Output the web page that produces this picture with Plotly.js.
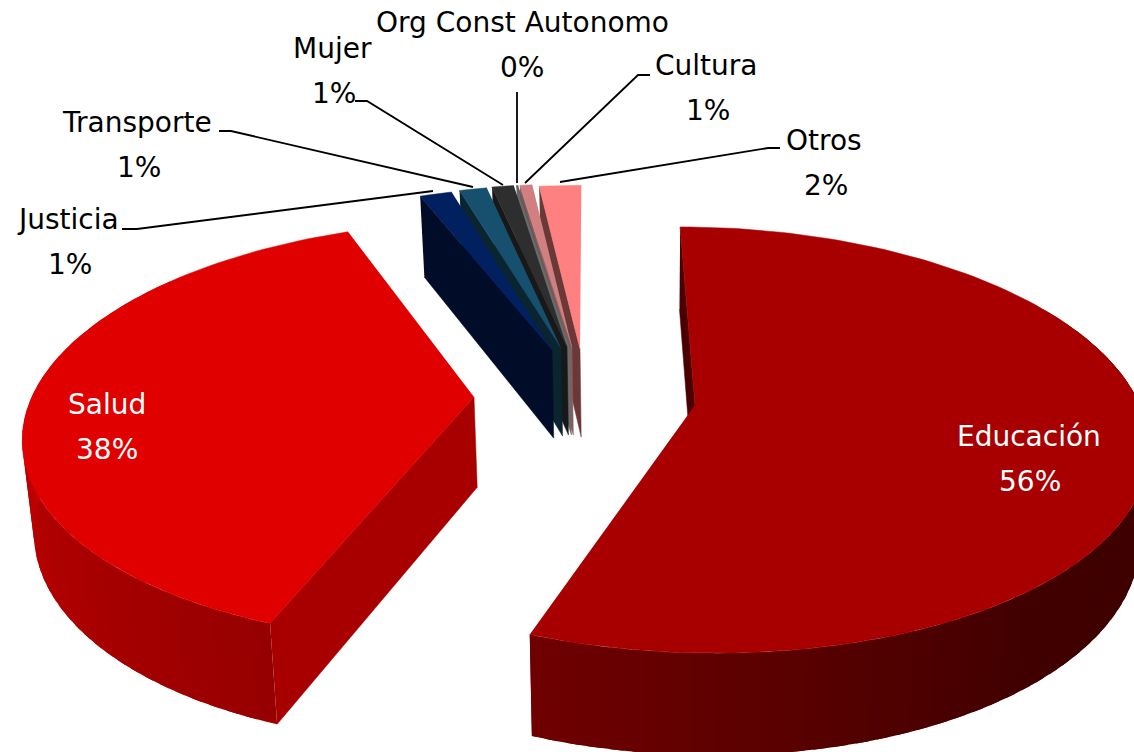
<!DOCTYPE html>
<html>
<head>
<meta charset="utf-8">
<script src="https://cdn.plot.ly/plotly-3.0.1.min.js"></script>
<style>html,body{margin:0;padding:0;background:#fff;overflow:hidden}</style>
</head>
<body>
<div id="chart" style="width:1134px;height:752px"></div>
<script>
// ---- data ----
const categories = ['Educación','Salud','Justicia','Transporte','Mujer','Org Const Autonomo','Cultura','Otros'];
const values = [55.7, 38.3, 1.4, 1.2, 0.95, 0.08, 0.54, 1.83];
const topColors = ['#a80000','#e00000','#002060','#17506e','#2e2e2e','#5c5c5c','#d08080','#ff8080'];
const sideColors = ['#4a0000','#a80000','#000c28','#0a2430','#181818','#6a6a6a','#8a5a5a','#6b3838'];
const labelColors = ['#ffffff','#ffffff','#000000','#000000','#000000','#000000','#000000','#000000'];

// ---- view settings: where each exploded wedge's tip sits, label spots, leaders ----
const tips = [[695,405],[474,397],[552,350],[561,348],[567,347],[570,347],[572,347],[580,349]];
const labelSpots = [[1029,436],[107,404],[68,219],[137,122],[332,48],[522,22],[706,65],[824,140]];
const percentSpots = [[1030,481],[107,449],[70,264],[139,167],[334,93],[522,67],[708,110],[826,185]];
const leaders = [null,null,
  [[122,229],[137,229],[433,191]],
  [[219,131],[231,131],[473,187]],
  [[355,101],[367,101],[503,185]],
  [[517,92],[517,183]],
  [[650,75],[638,75],[525,183]],
  [[780,148],[768,148],[560,182]]];
const upper = {xv:590, yv:-856, P:2706, Q:7669};
const lower = {xv:591, yv:-824, P:2655, Q:8026};
const wallStopsEdu = [[100,[62,0,0]],[140,[64,0,0]],[170,[88,0,0]],[201,[112,0,0]]];
const wallStopsSalud = [[200,[150,0,0]],[235,[172,0,0]],[275,[195,0,0]],[300,[195,0,0]]];

const total = values.reduce((a,b)=>a+b,0);
const worldOf = t => { const D = upper.Q/(t[1]-upper.yv); return {X:(t[0]-upper.xv)*D/upper.P, D}; };
const proj = (pl,X,D) => [pl.xv + pl.P*X/D, pl.yv + pl.Q/D];
const rimWorld = (w,deg) => { const r = deg*Math.PI/180; return {X:w.X+Math.sin(r), D:w.D+Math.cos(r)}; };
const rim = (pl,w,deg) => { const p = rimWorld(w,deg); return proj(pl,p.X,p.D); };
const traces = [];
function poly(pts,color,noLine){
  traces.push({type:'scatter',mode:noLine?'none':'lines',x:pts.map(p=>p[0]),y:pts.map(p=>p[1]),fill:'toself',fillcolor:color,
    line:{color:color,width:0.5},hoverinfo:'skip',showlegend:false});
}
function stopColor(stops,d){
  for(let i=0;i<stops.length-1;i++){
    const [a,ca]=stops[i],[b,cb]=stops[i+1];
    if(d>=a&&d<=b){const f=(d-a)/(b-a);return 'rgb('+ca.map((c,k)=>Math.round(c+(cb[k]-c)*f)).join(',')+')';}
  }
  const e=stops[d<stops[0][0]?0:stops.length-1][1];return 'rgb('+e.join(',')+')';
}
function arc(w,a,b,pl){const n=Math.max(3,Math.ceil((b-a)/1.5)),o=[];for(let i=0;i<=n;i++)o.push(rim(pl,w,a+(b-a)*i/n));return o;}
// strips overlap the next one so no seams show
function wall(w,a,b,stops){
  const step=2.5;
  for(let d=a;d<b;d+=step){
    const e=Math.min(b,d+step+1.5);
    poly([...arc(w,d,e,upper),...arc(w,d,e,lower).reverse()],stopColor(stops,d+step/2),true);
  }
}
function cutFace(w,d,color){
  poly([rim(upper,w,d),proj(upper,w.X,w.D),proj(lower,w.X,w.D),rim(lower,w,d)],color);
}
function topFace(w,a,b,color){poly([proj(upper,w.X,w.D),...arc(w,a,b,upper)],color);}

let start=0; const spans=values.map(v=>{const s=[start,start+v/total*360];start=s[1];return s;});
const worlds=tips.map(worldOf);
// Educación
cutFace(worlds[0],spans[0][0],sideColors[0]);
wall(worlds[0],60,spans[0][1],wallStopsEdu);
topFace(worlds[0],spans[0][0],spans[0][1],topColors[0]);
// Salud
wall(worlds[1],spans[1][0],spans[1][1]-30,wallStopsSalud);
cutFace(worlds[1],spans[1][0],sideColors[1]);
topFace(worlds[1],spans[1][0],spans[1][1],topColors[1]);
// small wedges: cut faces right to left, then all tops
for(let i=values.length-1;i>=2;i--) cutFace(worlds[i],spans[i][0],sideColors[i]);
for(let i=2;i<values.length;i++) topFace(worlds[i],spans[i][0],spans[i][1],topColors[i]);
// leaders
leaders.forEach(l=>{ if(l) traces.push({type:'scatter',mode:'lines',x:l.map(p=>p[0]),y:l.map(p=>p[1]),
  line:{color:'#000',width:1.8},hoverinfo:'skip',showlegend:false}); });

const font = c => ({family:'"DejaVu Sans", sans-serif',size:28,color:c});
const annotations=[];
categories.forEach((c,i)=>{
  annotations.push({x:labelSpots[i][0],y:labelSpots[i][1],xref:'x',yref:'y',text:c,showarrow:false,font:font(labelColors[i]),xanchor:'center',yanchor:'middle'});
  annotations.push({x:percentSpots[i][0],y:percentSpots[i][1],xref:'x',yref:'y',text:Math.round(values[i]/total*100)+'%',showarrow:false,font:font(labelColors[i]),xanchor:'center',yanchor:'middle'});
});
Plotly.newPlot('chart',traces,{
  width:1134,height:752,margin:{l:0,r:0,t:0,b:0},paper_bgcolor:'#fff',plot_bgcolor:'#fff',showlegend:false,
  xaxis:{range:[0,1134],visible:false,fixedrange:true},
  yaxis:{range:[752,0],visible:false,fixedrange:true},
  annotations
},{displayModeBar:false,staticPlot:true});
</script>
</body>
</html>
